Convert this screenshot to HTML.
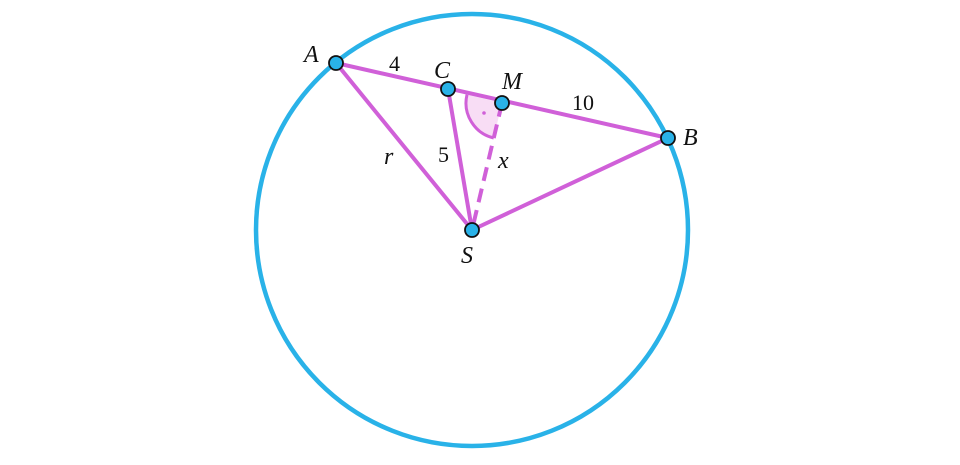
<!DOCTYPE html>
<html><head><style>body{margin:0;background:#fff}svg{display:block}text{font-family:"Liberation Serif",serif;font-size:24px;font-style:italic;fill:#111}.n{font-style:normal;font-size:22px}</style></head><body>
<svg width="960" height="465" viewBox="0 0 960 465">
<circle cx="472" cy="230" r="216" fill="none" stroke="#29b2e8" stroke-width="4.5"/>
<path d="M502 103 L467 94.6 A36 36 0 0 0 493.7 138 Z" fill="#f8ddf5" stroke="none"/>
<path d="M467 94.6 A36 36 0 0 0 493.7 138" fill="none" stroke="#d060d8" stroke-width="3"/>
<circle cx="484" cy="113" r="1.8" fill="#d060d8"/>
<g stroke="#d060d8" stroke-width="4" fill="none" stroke-linecap="round">
<line x1="336" y1="63" x2="668" y2="138"/>
<line x1="336" y1="63" x2="472" y2="230"/>
<line x1="448" y1="89" x2="472" y2="230"/>
<line x1="668" y1="138" x2="472" y2="230"/>
<line x1="502" y1="103" x2="472" y2="230" stroke-dasharray="14 8" stroke-linecap="butt"/>
</g>
<g fill="#29b2e8" stroke="#111" stroke-width="1.8">
<circle cx="336" cy="63" r="7"/><circle cx="448" cy="89" r="7"/><circle cx="502" cy="103" r="7"/><circle cx="668" cy="138" r="7"/><circle cx="472" cy="230" r="7"/>
</g>
<text x="304" y="62">A</text>
<text x="434" y="78">C</text>
<text x="502" y="89">M</text>
<text x="683" y="145">B</text>
<text x="461" y="263">S</text>
<text class="n" x="389" y="71">4</text>
<text class="n" x="572" y="110">10</text>
<text class="n" x="438" y="162">5</text>
<text x="384" y="164">r</text>
<text x="498" y="168">x</text>
</svg></body></html>
